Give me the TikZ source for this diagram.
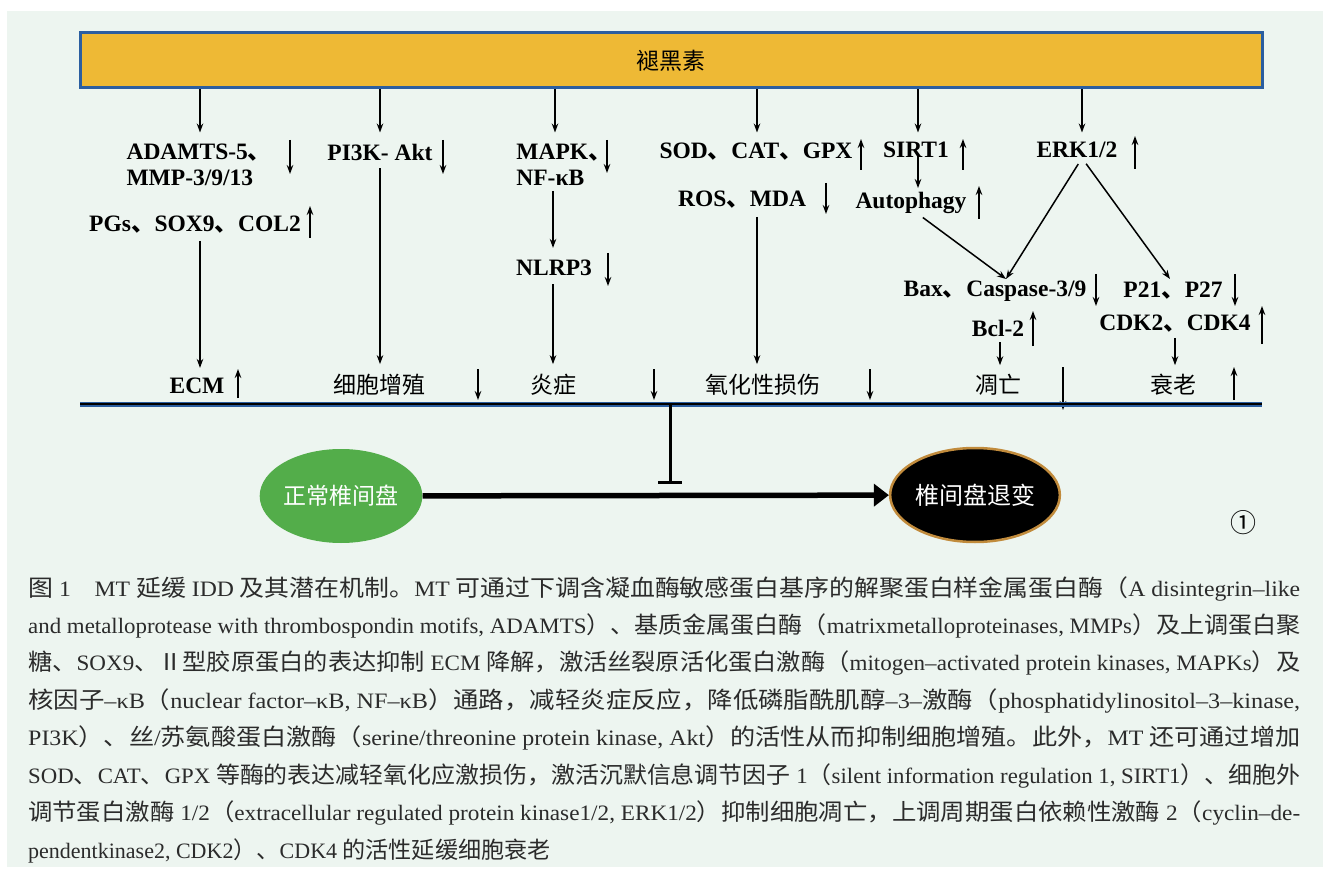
\documentclass[tikz,border=0pt]{standalone}
\usepackage{fontspec}
\usepackage{graphicx}
\setmainfont{Liberation Serif}
\newfontfamily\zh{Noto Sans CJK SC}
\newfontfamily\zhc{Noto Sans CJK SC}[Scale=1.05]
\newfontfamily\capl{Liberation Serif}
\usetikzlibrary{arrows.meta,shapes.geometric}
\definecolor{panel}{HTML}{EDF5F0}
\definecolor{barfill}{HTML}{EEB935}
\definecolor{barblue}{HTML}{2B5EA0}
\definecolor{disc}{HTML}{53AD4A}
\definecolor{rim}{HTML}{C18B3C}
\definecolor{captxt}{HTML}{2B2B2B}
\newcommand{\Z}[1]{{\zh #1}}
\newcommand{\ZC}[1]{{\zhc #1}}
\tikzset{
  lab/.style={font=\fontsize{23.5}{26}\selectfont\bfseries, inner sep=0pt},
  zlab/.style={font=\fontsize{23}{26}\selectfont\zh, inner sep=0pt},
  arr/.style={line width=1.5pt, -{Stealth[length=9pt,width=6.5pt]}},
  ind/.style={line width=1.7pt, -{Stealth[length=9pt,width=6.5pt]}},
  capline/.style={anchor=base west, inner sep=0pt, font=\fontsize{22}{26}\selectfont\capl, text=captxt},
}
\begin{document}
\begin{tikzpicture}[x=1pt,y=-1pt]
\useasboundingbox (0,0) rectangle (1323,869);
\fill[white] (0,0) rectangle (1323,869);
\fill[panel] (7,11) rectangle (1323,867);

% column coordinates
\coordinate (c1) at (200,0);
\coordinate (c2) at (380,0);
\coordinate (c3) at (555,0);
\coordinate (c3b) at (553,0);
\coordinate (c4) at (757,0);
\coordinate (c5) at (918,0);
\coordinate (c6) at (1082,0);
\coordinate (c7) at (1000,0);
\coordinate (c8) at (1175,0);

% top bar
\node[draw=barblue, fill=barfill, line width=3pt, minimum width=1182pt, minimum height=55pt, inner sep=0pt,
      font=\fontsize{23}{26}\selectfont\zh] (bar) at (671,60.5) {褪黑素};

% labels
\node[lab, align=left] (adam) at (199,165) {ADAMTS-5\Z{、}\\MMP-3/9/13};
\node[lab] (pgs) at (195,225) {PGs\Z{、}SOX9\Z{、}COL2};
\node[lab] (ecm) at (197,386) {ECM};

\node[lab] (pi3k) at (380,152) {PI3K- Akt};
\node[zlab] (prol) at (379,385) {细胞增殖};

\node[lab, align=left] (mapk) at (564,165) {MAPK\Z{、}\\NF-κB};
\node[lab] (nlrp) at (554,268) {NLRP3};
\node[zlab] (infl) at (553,385) {炎症};

\node[lab] (sod) at (756,152) {SOD\Z{、}CAT\Z{、}GPX};
\node[lab] (ros) at (742,200) {ROS\Z{、}MDA};
\node[zlab] (oxid) at (763,385) {氧化性损伤};

\node[lab] (sirt) at (916,150) {SIRT1};
\node[lab] (auto) at (911,203) {Autophagy};

\node[lab] (erk) at (1077,150) {ERK1/2};
\node[lab] (bax) at (995,291) {Bax\Z{、}Caspase-3/9};
\node[lab] (p21) at (1173,291) {P21\Z{、}P27};
\node[lab] (bcl) at (998,328) {Bcl-2};
\node[lab] (cdk) at (1175,324) {CDK2\Z{、}CDK4};
\node[zlab] (apop) at (998,385) {凋亡};
\node[zlab] (sen) at (1173,385) {衰老};

\coordinate (baxtop) at (1006,279);
\coordinate (p21top) at (1170,279);

% arrows from the bar
\draw[arr] (bar.south -| c1) -- ++(0,43);
\draw[arr] (bar.south -| c2) -- ++(0,43);
\draw[arr] (bar.south -| c3) -- ++(0,43);
\draw[arr] (bar.south -| c4) -- ++(0,43);
\draw[arr] (bar.south -| c5) -- ++(0,43);
\draw[arr] (bar.south -| c6) -- ++(0,43);

% pathway connectors
\draw[arr, shorten <=7pt, shorten >=10pt] (pgs.south -| c1) -- (ecm.north -| c1);
\draw[arr, shorten <=8pt, shorten >=10pt] (pi3k.south -| c2) -- (prol.north -| c2);
\draw[arr, shorten <=5pt, shorten >=12pt] (mapk.south -| c3b) -- (nlrp.north -| c3b);
\draw[arr, shorten <=8pt, shorten >=10pt] (nlrp.south -| c3b) -- (infl.north -| c3b);
\draw[arr, shorten <=8pt, shorten >=10pt] (ros.south -| c4) -- (oxid.north -| c4);
\draw[arr, shorten <=-3pt, shorten >=4pt] (sirt.south -| c5) -- (auto.north -| c5);
\draw[arr, shorten <=6pt] ([xshift=7pt]auto.south) -- (baxtop);
\draw[arr, shorten <=7pt] (erk.south -| c6) -- (baxtop);
\draw[arr, shorten <=7pt] (erk.south -| c6) -- (p21top);
\draw[arr, shorten <=6pt, shorten >=9pt] (bcl.south -| c7) -- (apop.north -| c7);
\draw[arr, shorten <=5pt, shorten >=9pt] (cdk.south -| c8) -- (sen.north -| c8);

% up / down indicators
\draw[ind] (290,140) -- (290,174);
\draw[ind] (310,238) -- (310,206);
\draw[ind] (238,398) -- (238,369);
\draw[ind] (443,140) -- (443,174);
\draw[ind] (478,369) -- (478,400);
\draw[ind] (607,140) -- (607,173);
\draw[ind] (608,253) -- (608,286);
\draw[ind] (654,369) -- (654,400);
\draw[ind] (861,170) -- (861,139);
\draw[ind] (826,183) -- (826,214);
\draw[ind] (870,369) -- (870,400);
\draw[ind] (963,170) -- (963,139);
\draw[ind] (979,219) -- (979,186);
\draw[ind] (1135,169) -- (1135,136);
\draw[ind] (1096,274) -- (1096,306);
\draw[ind] (1235,274) -- (1235,306);
\draw[ind] (1033,346) -- (1033,311);
\draw[ind] (1262,344) -- (1262,306);
\draw[ind] (1063,367) -- (1063,410);
\draw[ind] (1234,400) -- (1234,367);

% baseline
\coordinate (lineL) at (80,404);
\coordinate (lineR) at (1262,404);
\draw[barblue, line width=5pt] (lineL) -- (lineR);
\draw[black, line width=2.2pt] (lineL) -- (lineR);

% discs
\node[ellipse, fill=disc, minimum width=154pt, minimum height=94pt, inner sep=0pt, text=white,
      font=\fontsize{23}{26}\selectfont\zh] (norm) at (341,496) {正常椎间盘};
\node[ellipse, fill=black, draw=rim, line width=2.5pt, minimum width=150pt, minimum height=94pt, inner sep=0pt,
      text=white, font=\fontsize{24}{26}\selectfont\zh] (degen) at (975,495) {椎间盘退变};
\draw[line width=5.5pt, -{Triangle[length=15pt,width=22pt]}] (norm) -- (degen);

% inhibition
\coordinate (inhA) at (670,405);
\coordinate (inhB) at (670,482);
\draw[line width=3pt] (inhA) -- (inhB);
\draw[line width=3pt] ([xshift=-12pt]inhB) -- ([xshift=12pt]inhB);

\node[font=\fontsize{26}{28}\selectfont\zh, inner sep=0pt] (num) at (1243,523) {①};

% caption
\node[capline] (cap1) at (28,596) {\resizebox{1272pt}{\height}{\ZC{图} 1\quad MT \ZC{延缓} IDD \ZC{及其潜在机制。}MT \ZC{可通过下调含凝血酶敏感蛋白基序的解聚蛋白样金属蛋白酶（}A disintegrin–like}};
\node[capline] (cap2) at (28,633) {\resizebox{1272pt}{\height}{and metalloprotease with thrombospondin motifs, ADAMTS\ZC{）、基质金属蛋白酶（}matrixmetalloproteinases, MMPs\ZC{）及上调蛋白聚}}};
\node[capline] (cap3) at (28,670) {\resizebox{1272pt}{\height}{\ZC{糖、}SOX9\ZC{、Ⅱ型胶原蛋白的表达抑制} ECM \ZC{降解，激活丝裂原活化蛋白激酶（}mitogen–activated protein kinases, MAPKs\ZC{）及}}};
\node[capline] (cap4) at (28,708) {\resizebox{1272pt}{\height}{\ZC{核因子}–κB\ZC{（}nuclear factor–κB, NF–κB\ZC{）通路，减轻炎症反应，降低磷脂酰肌醇}–3–\ZC{激酶（}phosphatidylinositol–3–kinase,}};
\node[capline] (cap5) at (28,745) {\resizebox{1272pt}{\height}{PI3K\ZC{）、丝}/\ZC{苏氨酸蛋白激酶（}serine/threonine protein kinase, Akt\ZC{）的活性从而抑制细胞增殖。此外，}MT \ZC{还可通过增加}}};
\node[capline] (cap6) at (28,783) {\resizebox{1272pt}{\height}{SOD\ZC{、}CAT\ZC{、}GPX \ZC{等酶的表达减轻氧化应激损伤，激活沉默信息调节因子} 1\ZC{（}silent information regulation 1, SIRT1\ZC{）、细胞外}}};
\node[capline] (cap7) at (28,820) {\resizebox{1272pt}{\height}{\ZC{调节蛋白激酶} 1/2\ZC{（}extracellular regulated protein kinase1/2, ERK1/2\ZC{）抑制细胞凋亡，上调周期蛋白依赖性激酶} 2\ZC{（}cyclin–de-}};
\node[capline] (cap8) at (28,858) {pendentkinase2, CDK2\ZC{）、}CDK4 \ZC{的活性延缓细胞衰老}};
\end{tikzpicture}
\end{document}
